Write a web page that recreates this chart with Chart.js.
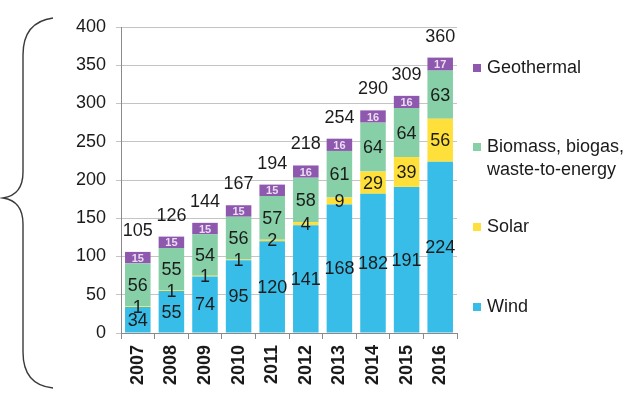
<!DOCTYPE html>
<html>
<head>
<meta charset="utf-8">
<script src="https://cdn.jsdelivr.net/npm/chart.js@4/dist/chart.umd.min.js"></script>
<style>
    html, body { margin: 0; padding: 0; background: #fff; }
    #wrap { position: relative; width: 644px; height: 395px; }
    .legend-item {
        position: absolute;
        left: 473px;
        font-family: "Liberation Sans", Arial, sans-serif;
        font-size: 18px;
        line-height: 23px;
        color: #1a1a1a;
    }
    .legend-item span.box {
        position: absolute;
        left: 0;
        top: 8px;
        width: 8px;
        height: 8px;
    }
    .legend-item span.txt { display: block; margin-left: 14px; white-space: nowrap; }
</style>
</head>
<body>
<div id="wrap">
    <canvas id="chart" width="644" height="395"></canvas>
    <div class="legend-item" style="top:56px"><span class="box" style="background:#8E58AE"></span><span class="txt">Geothermal</span></div>
    <div class="legend-item" style="top:135px"><span class="box" style="background:#86CFA7"></span><span class="txt">Biomass, biogas,<br>waste-to-energy</span></div>
    <div class="legend-item" style="top:215px"><span class="box" style="background:#FFE03A"></span><span class="txt">Solar</span></div>
    <div class="legend-item" style="top:295px"><span class="box" style="background:#38BDE8"></span><span class="txt">Wind</span></div>
</div>
<script>
const years = ['2007', '2008', '2009', '2010', '2011', '2012', '2013', '2014', '2015', '2016'];
const wind = [34, 55, 74, 95, 120, 141, 168, 182, 191, 224];
const solar = [1, 1, 1, 1, 2, 4, 9, 29, 39, 56];
const biomass = [56, 55, 54, 56, 57, 58, 61, 64, 64, 63];
const geothermal = [15, 15, 15, 15, 15, 16, 16, 16, 16, 17];
const totals = [105, 126, 144, 167, 194, 218, 254, 290, 309, 360];
const yTicks = [0, 50, 100, 150, 200, 250, 300, 350, 400];

const FONT = '"Liberation Sans", Arial, sans-serif';

// curly brace on the left edge
const bracePlugin = {
    id: 'brace',
    afterDraw(chart) {
        const ctx = chart.ctx;
        ctx.save();
        ctx.strokeStyle = '#3a3a3a';
        ctx.lineWidth = 1.4;
        ctx.beginPath();
        ctx.moveTo(53, 18);
        ctx.quadraticCurveTo(23, 22, 23, 55);
        ctx.lineTo(23, 172);
        ctx.quadraticCurveTo(23, 195, 3, 198);
        ctx.quadraticCurveTo(23, 201, 23, 224);
        ctx.lineTo(23, 352);
        ctx.quadraticCurveTo(23, 385, 53, 388);
        ctx.stroke();
        ctx.restore();
    }
};

// value labels inside segments and totals above bars
const labelPlugin = {
    id: 'barLabels',
    afterDatasetsDraw(chart) {
        const ctx = chart.ctx;
        ctx.save();
        ctx.textAlign = 'center';
        ctx.textBaseline = 'middle';
        chart.data.datasets.forEach((ds, i) => {
            const meta = chart.getDatasetMeta(i);
            meta.data.forEach((bar, j) => {
                const cy = (bar.y + bar.base) / 2;
                if (ds.label === 'Geothermal') {
                    ctx.font = 'bold 11px ' + FONT;
                    ctx.fillStyle = '#EADCF2';
                } else {
                    ctx.font = '18px ' + FONT;
                    ctx.fillStyle = '#1c1c1c';
                }
                ctx.fillText(String(ds.data[j]), bar.x, cy + 1);
            });
        });
        const top = chart.getDatasetMeta(chart.data.datasets.length - 1);
        ctx.font = '18px ' + FONT;
        ctx.fillStyle = '#1c1c1c';
        ctx.textBaseline = 'bottom';
        top.data.forEach((bar, j) => {
            ctx.fillText(String(totals[j]), bar.x, bar.y - 12);
        });
        ctx.restore();
    }
};

const ctx = document.getElementById('chart').getContext('2d');
const chart = new Chart(ctx, {
    type: 'bar',
    data: {
        labels: years,
        datasets: [
            { label: 'Wind', data: wind, backgroundColor: '#38BDE8' },
            { label: 'Solar', data: solar, backgroundColor: '#FFE03A' },
            { label: 'Biomass, biogas, waste-to-energy', data: biomass, backgroundColor: '#86CFA7' },
            { label: 'Geothermal', data: geothermal, backgroundColor: '#8E58AE' }
        ]
    },
    options: {
        responsive: false,
        animation: false,
        layout: { padding: { left: 60, right: 187, top: 27, bottom: 0 } },
        datasets: {
            bar: { categoryPercentage: 1.0, barPercentage: 0.76, borderWidth: 0 }
        },
        plugins: {
            legend: { display: false },
            tooltip: { enabled: false }
        },
        scales: {
            x: {
                stacked: true,
                grid: { drawOnChartArea: false, tickLength: 6, color: '#8a8a8a' },
                border: { color: '#8a8a8a' },
                ticks: {
                    minRotation: 90,
                    maxRotation: 90,
                    padding: 6,
                    color: '#1a1a1a',
                    font: { family: FONT, size: 18, weight: 'bold' }
                },
                afterFit(scale) { scale.height = 62; }
            },
            y: {
                stacked: true,
                min: 0,
                max: 400,
                afterBuildTicks(scale) { scale.ticks = yTicks.map(v => ({ value: v })); },
                grid: { color: '#c4c4c4', tickLength: 5 },
                border: { color: '#8a8a8a' },
                ticks: {
                    padding: 10,
                    color: '#1a1a1a',
                    font: { family: FONT, size: 18 }
                },
                afterFit(scale) { scale.width = 61; }
            }
        }
    },
    plugins: [labelPlugin, bracePlugin]
});
</script>
</body>
</html>
